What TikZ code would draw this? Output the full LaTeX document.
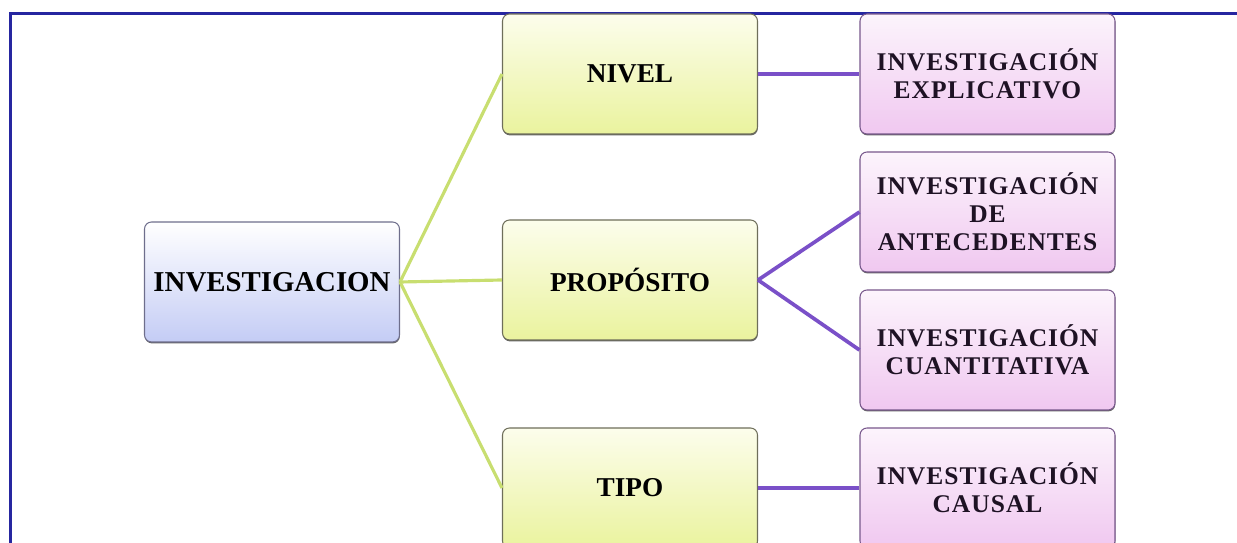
\documentclass[tikz,border=0pt]{standalone}
\usepackage{fontspec}
\setmainfont{Liberation Serif}
\newfontfamily\spacedserif[LetterSpace=4]{Liberation Serif}
\usetikzlibrary{shadows}

\definecolor{frameblue}{RGB}{38,38,160}
\definecolor{linkgreen}{RGB}{200,222,112}
\definecolor{linkpurple}{RGB}{122,80,200}
\definecolor{rootdraw}{RGB}{110,110,140}
\definecolor{rootfill}{RGB}{196,204,245}
\definecolor{branchdraw}{RGB}{110,110,90}
\definecolor{branchtop}{RGB}{252,253,236}
\definecolor{branchfill}{RGB}{234,243,158}
\definecolor{leafdraw}{RGB}{120,88,140}
\definecolor{leaftop}{RGB}{252,244,252}
\definecolor{leaffill}{RGB}{240,200,240}
\definecolor{leaftext}{RGB}{30,18,36}

\begin{document}
\begin{tikzpicture}[
  x=1cm,
  y=1cm,
  box/.style={
    rectangle,
    rounded corners=4pt,
    minimum width=5.1cm,
    minimum height=2.4cm,
    inner sep=2pt,
    align=center,
    line width=0.6pt,
    general shadow={fill=black!60, shadow yshift=-0.8pt, shadow xshift=0.2pt}
  },
  root/.style={
    box,
    draw=rootdraw,
    top color=white,
    bottom color=rootfill,
    font=\fontsize{16.4}{19}\selectfont\bfseries
  },
  branch/.style={
    box,
    draw=branchdraw,
    top color=branchtop,
    bottom color=branchfill,
    font=\fontsize{15.5}{18}\selectfont\bfseries
  },
  leaf/.style={
    box,
    draw=leafdraw,
    top color=leaftop,
    bottom color=leaffill,
    text=leaftext,
    font=\spacedserif\fontsize{14.5}{15.9}\selectfont\bfseries
  },
  frameline/.style={draw=frameblue, line width=1.7pt},
  greenlink/.style={draw=linkgreen, line width=1.8pt},
  purplelink/.style={draw=linkpurple, line width=2.1pt}
]

\path[use as bounding box, clip] (0,0) rectangle (24.74,10.86);

% page frame, only its top and left sides fall inside the page
\draw[frameline] (0.21,-1) -- (0.21,10.58) -- (26,10.58);

\node[root] (inv) at (5.44,5.22) {INVESTIGACION};

\node[branch] (nivel) at (12.6,9.38) {NIVEL};
\node[branch] (prop) at (12.6,5.26) {PROPÓSITO};
\node[branch] (tipo) at (12.6,1.10) {TIPO};

\node[leaf] (expl) at (19.75,9.38) {INVESTIGACIÓN\\EXPLICATIVO};
\node[leaf] (ante) at (19.75,6.62) {INVESTIGACIÓN\\DE\\ANTECEDENTES};
\node[leaf] (cuan) at (19.75,3.86) {INVESTIGACIÓN\\CUANTITATIVA};
\node[leaf] (caus) at (19.75,1.10) {INVESTIGACIÓN\\CAUSAL};

\draw[greenlink] (inv.east) -- (nivel.west);
\draw[greenlink] (inv.east) -- (prop.west);
\draw[greenlink] (inv.east) -- (tipo.west);

\draw[purplelink] (nivel.east) -- (expl.west);
\draw[purplelink] (prop.east) -- (ante.west);
\draw[purplelink] (prop.east) -- (cuan.west);
\draw[purplelink] (tipo.east) -- (caus.west);

\end{tikzpicture}
\end{document}
